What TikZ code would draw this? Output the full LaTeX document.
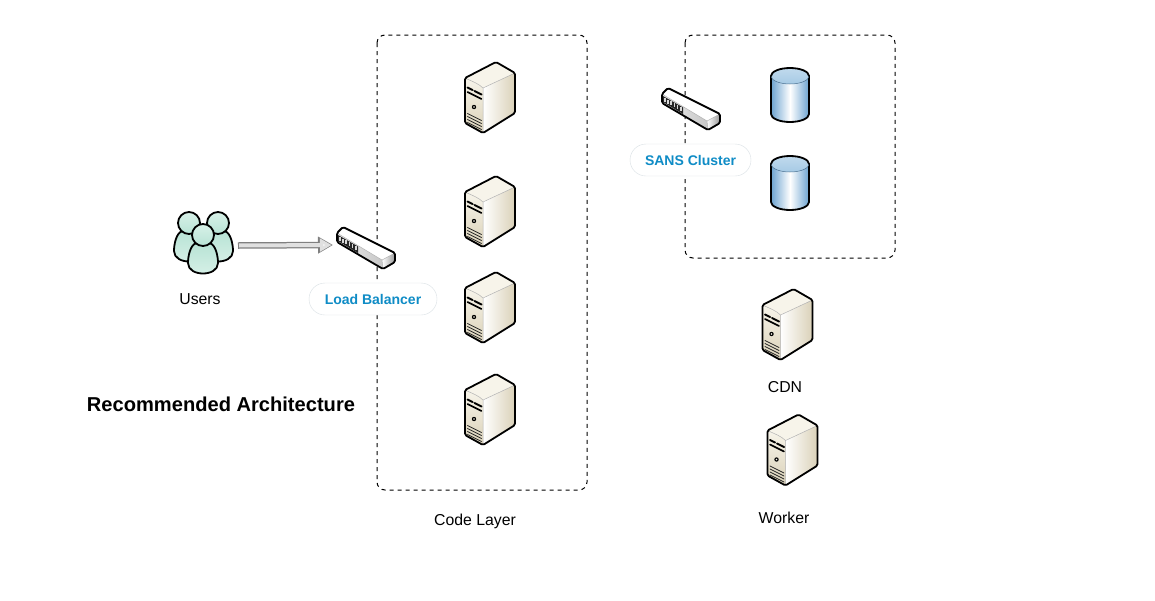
\documentclass[tikz,border=0pt]{standalone}
\usepackage{fontspec}
\setmainfont{Liberation Sans}
\usetikzlibrary{arrows.meta,positioning}
\definecolor{pillblue}{HTML}{0F8CC6}
\definecolor{pillline}{HTML}{D8DFE3}
\definecolor{creamlight}{HTML}{F7F4EA}
\definecolor{creammid}{HTML}{EFE9D8}
\definecolor{creamdark}{HTML}{DAD1B8}
\definecolor{mint}{HTML}{B8E3D5}
\definecolor{mintpale}{HTML}{D8F1E8}
\definecolor{drumblue}{HTML}{6CA3D0}
\definecolor{drumtop}{HTML}{A6CAE5}

\begin{document}
\begin{tikzpicture}[ x=1pt, y=-1pt, >=stealth, outline/.style={ draw=black,
    line width=1.8pt, line join=round }, seam/.style={ draw=black!30,
    line width=0.5pt }, tier/.style={ draw=black, line width=1pt,
    dash pattern=on 4pt off 4pt, rounded corners=8pt }, pill/.style={
    draw=pillline, fill=white, rounded corners=16pt, minimum height=32pt,
    inner sep=0pt, text=pillblue, font=\fontsize{14}{16}\bfseries\selectfont },
  caption/.style={ font=\fontsize{15.8}{18}\selectfont, inner sep=0pt },
  server/.pic={
    \fill[creamlight] (-25.5,-19.5) -- (5.5,-35.5) -- (24.5,-24.5)
      -- (-7.5,-9.5) -- cycle;
    \shade[left color=white,right color=creamdark] (-7.5,-9.5)
      -- (24.5,-24.5) -- (24.5,15.5) -- (-7.5,35.5) -- cycle;
    \shade[top color=creamlight,bottom color=creamdark] (-25.5,-19.5)
      .. controls (-18,-16) and (-12,-14) .. (-7.5,-9.5) -- (-7.5,35.5)
      -- (-25.5,25.5) -- cycle;
    \draw[seam] (-25.5,-19.5) .. controls (-18,-16) and (-12,-14) .. (-7.5,-9.5)
      -- (24.5,-24.5) (-7.5,-9.5) -- (-7.5,35.5);
    \draw[black,line width=2pt] (-23,-10) -- (-18,-7.5) (-16,-6.5) -- (-9,-3);
    \draw[black,line width=1.6pt] (-23,-5.5) -- (-9,1.5);
    \fill[black] (-16.5,9.5) circle (2.2pt);
    \fill[creamlight] (-16.5,9.5) circle (0.8pt);
    \foreach \g in {16,19,22,25}
      \draw[black!85,line width=0.8pt] (-23,\g) -- (-9,\g+7);
    \draw[outline,rounded corners=1.5pt] (-25.5,-19.5) -- (5.5,-35.5) -- (24.5,-24.5)
      -- (24.5,15.5) -- (-7.5,35.5) -- (-25.5,25.5) -- cycle;
  },
  switchbox/.pic={
    \fill[white] (-29,-15) -- (-23,-21) -- (29,5) -- (16,12) -- cycle;
    \shade[left color=white,right color=black!40] (16,12) -- (29,5)
      -- (29,14) -- (17,21) -- cycle;
    \shade[left color=black!8,right color=black!22] (-29,-15)
      -- (16,12) -- (17,21) -- (-29,-6) -- cycle;
    \draw[seam] (-29,-15) -- (16,12) -- (29,5) (16,12) -- (17,21);
    \fill[black!85] (-28,-13) -- (-8,-1.5) -- (-8,5) -- (-28,-7) -- cycle;
    \foreach \s in {0,1,2,3,4,5}
      \fill[black!15] (-27+\s*3.2,-11.3+\s*1.85) rectangle ++(1.6,4);
    \draw[outline,rounded corners=1.5pt] (-29,-15) -- (-23,-21) -- (29,5)
      -- (29,14) -- (17,21) -- (-29,-6) -- cycle;
    \coordinate (-west) at (-33,-3);
  },
  drum/.pic={
    \shade[outline,left color=drumblue,right color=drumblue,middle color=white]
      (-19,-19) -- (-19,19) arc[start angle=180,end angle=360,x radius=19,
      y radius=-8] -- (19,-19) -- cycle;
    \shade[top color=drumtop!70,bottom color=drumtop] (0,-19) ellipse[x radius=19,y radius=8];
    \draw[seam,draw=drumblue!70!black] (-19,-19) arc[start angle=180,end angle=360,x radius=19,y radius=-8];
    \draw[outline] (-19,-19) arc[start angle=180,end angle=0,x radius=19,y radius=-8];
  },
  person/.pic={
    \shade[outline,top color=mint,bottom color=mintpale] (-6,-2) .. controls (-13,-1) and (-15,12) .. (-15,18)
      .. controls (-15,32) and (15,32) .. (15,18)
      .. controls (15,12) and (13,-1) .. (6,-2) -- cycle;
    \shade[outline,top color=mintpale,bottom color=mint] (0,-10) circle (11);
  },
  every pic/.style={ line cap=round } ]
  \useasboundingbox (0,0) rectangle (1155,600);
  % tiers sit below everything else
  \draw[tier] (377,35) rectangle (587,490);
  \draw[tier] (685,35) rectangle (895,258);
  % code layer
  \foreach \y/\n in {97.5/a,211.5/b,307.5/c,409.5/d}
  \pic (srv\n) at (490.5,\y) {server};
  \pic (cdn) at (788,324.5) {server};
  \pic (wrk) at (793,450) {server};
  % storage
  \pic (dba) at (790,95) {drum};
  \pic (dbb) at (790,183) {drum};
  % users
  \pic (usra) at (189,233) {person};
  \pic (usrb) at (218,233) {person};
  \pic (usrc) at (203,245) {person};
  \coordinate (usreast) at (238,245.5);
  % switches
  \pic (lb) at (366,248) {switchbox};
  \pic (sans) at (691,109) {switchbox};
  \node[pill,minimum width=128pt] (lblabel) at (373,299) {\raisebox{-1pt}{Load Balancer}};
  \node[pill,minimum width=121pt] (sanslabel) at (690.5,160) {\raisebox{-1pt}{SANS Cluster}};
  \draw[line width=6.5pt,draw=black!50,-{Triangle[length=15pt,width=16pt,fill=black!50]}]
    (usreast) -- (lb-west);
  \draw[line width=4pt,draw=black!12,shorten >=1.5pt,shorten <=1pt,
    -{Triangle[length=11.5pt,width=12.5pt,fill=black!6]}] (usreast) -- (lb-west);
  \node[caption] (users) at (200,299) {Users};
  \node[caption] (code) at (475,521) {Code Layer};
  \node[caption] (cdntext) at (785,387) {CDN};
  \node[caption] (wrktext) at (784,518) {Worker};
  \node[font=\fontsize{20.1}{22}\bfseries\selectfont,inner sep=0pt] (title) at (221,404) {Recommended Architecture};
\end{tikzpicture}
\end{document}
